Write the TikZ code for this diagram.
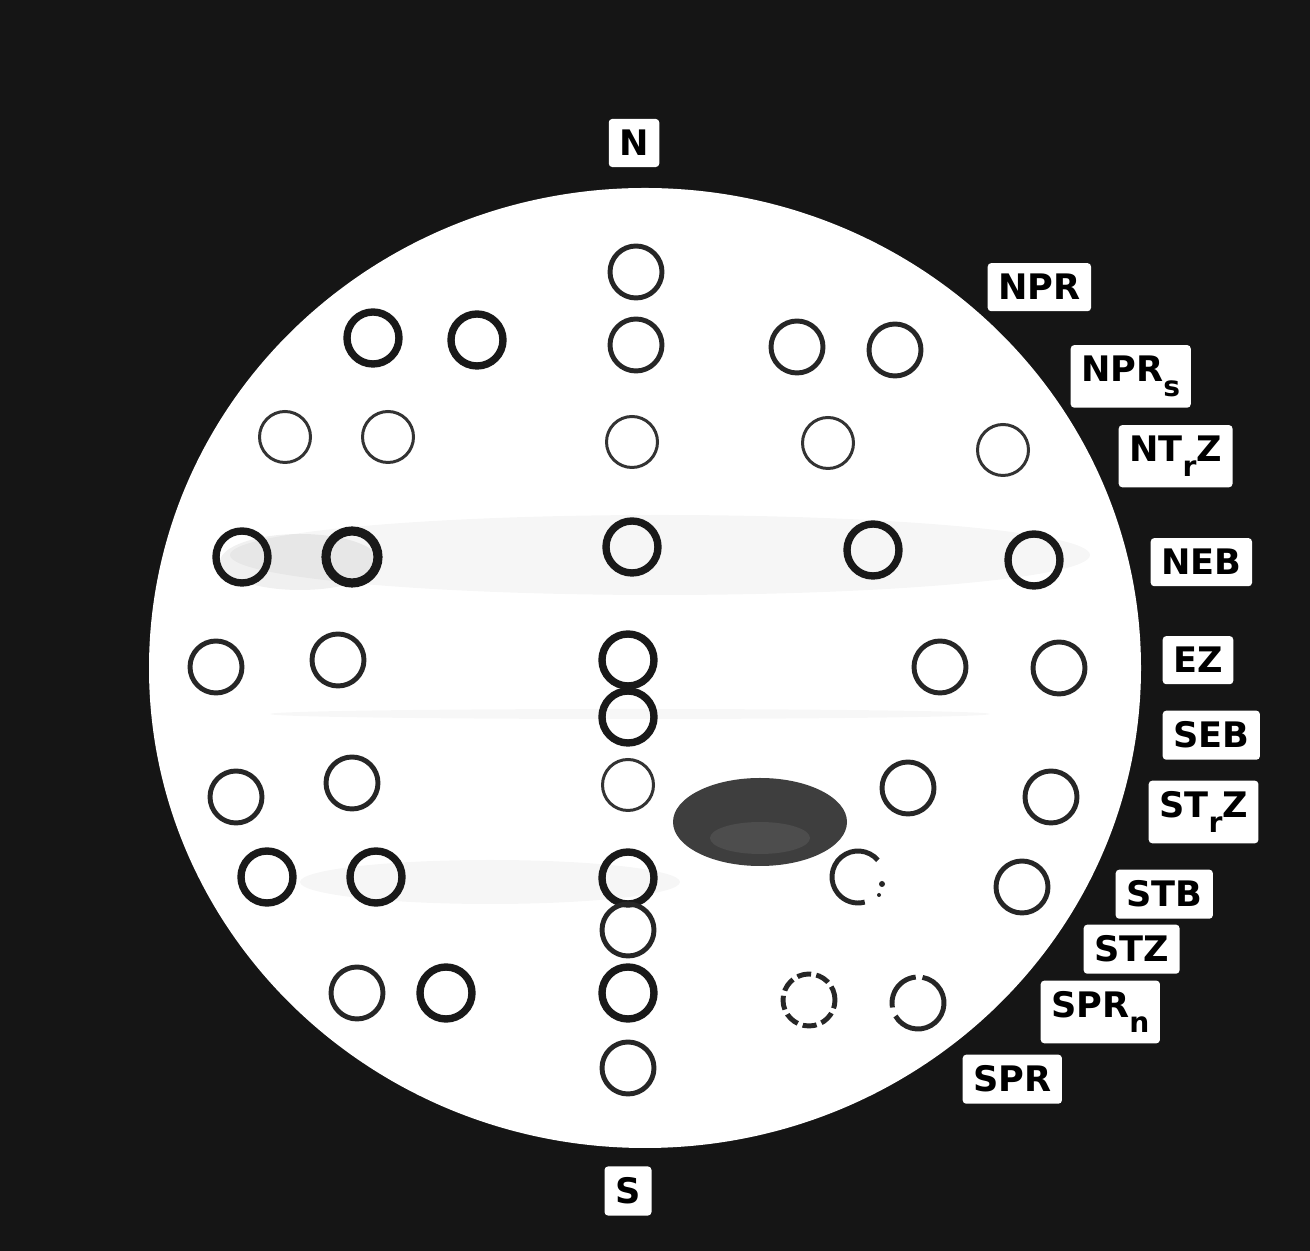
\documentclass[tikz,border=0pt]{standalone}
\usepackage{fontspec}
\usepackage{tikz}
\usetikzlibrary{positioning}
\usepackage{xcolor}
\newfontfamily\platefont{DejaVu Sans}

\definecolor{sky}{HTML}{151515}
\definecolor{spot}{HTML}{3E3E3E}

\newcommand{\lowsub}[1]{\raisebox{-4pt}{\footnotesize #1}}

\tikzset{
  ring/.style={radius=.26, line width=1.4pt, draw=black!85},
  thinring/.style={radius=.255, line width=.85pt, draw=black!80},
  thickring/.style={radius=.26, line width=2.1pt, draw=black!90},
  tag/.style={fill=white, text=black, inner xsep=3pt, inner ysep=3.2pt,
    rounded corners=1pt, font=\platefont\bfseries},
}

\begin{document}
\begin{tikzpicture}

\useasboundingbox (0,0) rectangle (13.10,-12.51);
\fill[sky] (0,0) rectangle (13.10,-12.51);

\fill[white] (6.45,-6.68) ellipse (4.96 and 4.80);

\fill[black, opacity=.035] (6.6,-5.55) ellipse (4.3 and .40);
\fill[black, opacity=.06] (3.0,-5.62) ellipse (.8 and .28);
\fill[black, opacity=.03] (6.3,-7.14) ellipse (3.6 and .05);
\fill[black, opacity=.035] (4.9,-8.82) ellipse (1.9 and .22);

\fill[spot] (7.60,-8.22) ellipse (.87 and .44);
\fill[white, opacity=.08] (7.6,-8.38) ellipse (.5 and .16);

\draw[ring](6.36,-2.72)circle;
\draw[ring](6.36,-3.45)circle;
\draw[thinring](6.32,-4.42)circle;
\draw[thickring](6.32,-5.47)circle;
\draw[thickring](6.28,-6.60)circle;
\draw[thickring](6.28,-7.17)circle;
\draw[thinring](6.28,-7.85)circle;
\draw[thickring](6.28,-8.78)circle;
\draw[ring](6.28,-9.30)circle;
\draw[thickring](6.28,-9.93)circle;
\draw[ring](6.28,-10.68)circle;

\draw[thickring](3.73,-3.38)circle;
\draw[thickring](4.77,-3.40)circle;
\draw[thinring](2.85,-4.37)circle;
\draw[thinring](3.88,-4.37)circle;
\draw[thickring](2.42,-5.57)circle;
\draw[thickring, line width=2.6pt](3.52,-5.57)circle;
\draw[ring](2.16,-6.67)circle;
\draw[ring](3.38,-6.60)circle;
\draw[ring](2.36,-7.97)circle;
\draw[ring](3.52,-7.83)circle;
\draw[thickring](2.67,-8.77)circle;
\draw[thickring](3.76,-8.77)circle;
\draw[ring](3.57,-9.93)circle;
\draw[thickring](4.46,-9.93)circle;

\draw[ring](7.97,-3.47)circle;
\draw[ring](8.95,-3.50)circle;
\draw[thinring](8.28,-4.43)circle;
\draw[thinring](10.03,-4.50)circle;
\draw[thickring](8.73,-5.50)circle;
\draw[thickring](10.34,-5.60)circle;
\draw[ring](9.40,-6.67)circle;
\draw[ring](10.59,-6.68)circle;
\draw[ring](9.08,-7.88)circle;
\draw[ring](10.51,-7.97)circle;
\draw[ring](8.58,-8.77) ++(40:.26) arc (40:285:.26);
\fill[black!85] (8.82,-8.84) circle (.03);
\fill[black!85] (8.79,-8.95) circle (.02);
\draw[ring](10.22,-8.87)circle;
\draw[ring, dash pattern=on 4pt off 1.5pt](8.09,-10.00)circle;
\draw[ring](9.18,-10.03) ++(95:.26) arc (95:190:.26);
\draw[ring](9.18,-10.03) ++(210:.26) arc (210:440:.26);

\node[tag, minimum size=.47cm] (north) at (6.34,-1.43) {N};
\node[tag, minimum size=.47cm] (south) at (6.28,-11.91) {S};

\node[tag, anchor=base west] (npr) at (9.87,-3.00) {NPR};
\node[tag, anchor=base west] (nprs) at (10.70,-3.82) {NPR\lowsub{s}};
\node[tag, anchor=base west] (ntrz) at (11.18,-4.62) {NT\lowsub{r}Z};
\node[tag, anchor=base west] (neb) at (11.50,-5.75) {NEB};
\node[tag, anchor=base west] (ez) at (11.62,-6.73) {EZ};
\node[tag, anchor=base west] (seb) at (11.62,-7.48) {SEB};
\node[tag, anchor=base west] (strz) at (11.48,-8.18) {ST\lowsub{r}Z};
\node[tag, anchor=base west] (stb) at (11.15,-9.07) {STB};
\node[tag, anchor=base west] (stz) at (10.83,-9.62) {STZ};
\node[tag, anchor=base west] (sprn) at (10.40,-10.18) {SPR\lowsub{n}};
\node[tag, anchor=base west] (spr) at (9.62,-10.92) {SPR};

\end{tikzpicture}
\end{document}
